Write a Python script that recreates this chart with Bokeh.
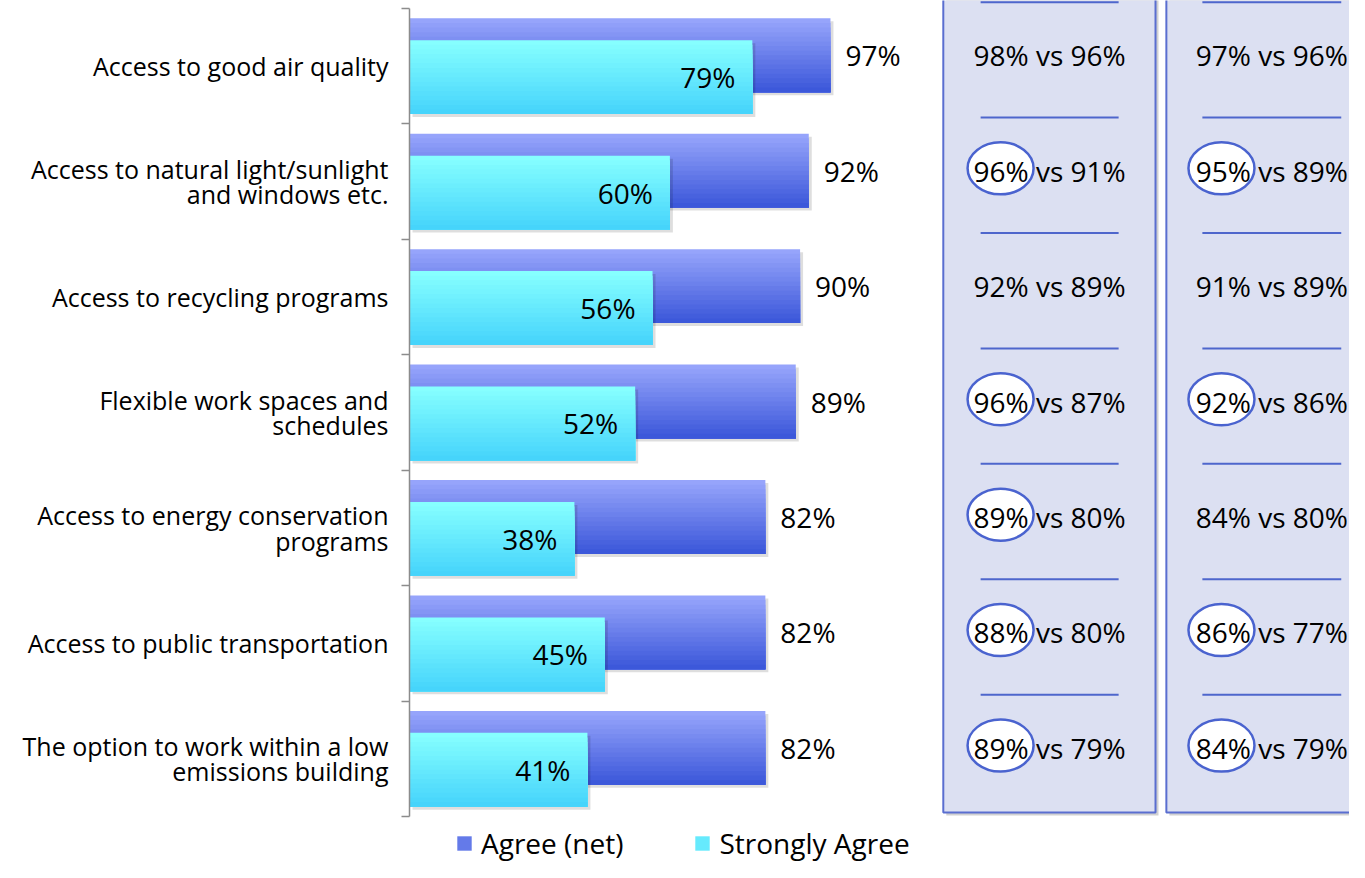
import numpy as np
from bokeh.plotting import figure
from bokeh.layouts import column
from bokeh.models import FixedTicker, Legend, LegendItem
from bokeh.core.properties import value
from bokeh.embed import file_html
from bokeh.resources import INLINE

# ---------------- data ----------------
categories = [
    "Access to good air quality",
    "Access to natural light/sunlight\nand windows etc.",
    "Access to recycling programs",
    "Flexible work spaces and\nschedules",
    "Access to energy conservation\nprograms",
    "Access to public transportation",
    "The option to work within a low\nemissions building",
]
agree_net = [97, 92, 90, 89, 82, 82, 82]
strongly_agree = [79, 60, 56, 52, 38, 45, 41]
panel1_first = [98, 96, 92, 96, 89, 88, 89]
panel1_second = [96, 91, 89, 87, 80, 80, 79]
panel1_circled = [False, True, False, True, True, True, True]
panel2_first = [97, 95, 91, 92, 84, 86, 84]
panel2_second = [96, 89, 89, 86, 80, 77, 79]
panel2_circled = [False, True, False, True, False, True, True]
series_names = ["Agree (net)", "Strongly Agree"]

# ---------------- style ----------------
FONT = "Open Sans"
FS_CAT = "25px"
FS = "28px"
AGREE_TOP, AGREE_BOT = (150, 164, 251), (60, 88, 218)
STRONG_TOP, STRONG_BOT = (134, 255, 255), (70, 212, 251)
PANEL_FILL = "#DCE0F2"
PANEL_LINE = "#5A6ED0"
SEP_LINE = "#4E66CC"
LEFT_BORDER = 409

n = len(categories)
yc = np.array([n - 0.5 - i for i in range(n)])
BAR_H = 0.64
OFF = 0.095
y_agree = yc + OFF
y_strong = yc - OFF
PX_PER_ROW = 115.4
TOP_EXTRA = 8 / PX_PER_ROW

p = figure(width=1349, height=822, x_range=(0, 216.6), y_range=(0, n + TOP_EXTRA),
           x_axis_location=None, output_backend="svg", toolbar_location=None,
           min_border_left=LEFT_BORDER, min_border_right=0, min_border_top=0,
           min_border_bottom=6)
p.outline_line_color = None
p.grid.visible = False
p.background_fill_color = "white"

# y axis with ticks between categories
ax = p.yaxis[0]
ax.bounds = (0, n)
ax.ticker = FixedTicker(ticks=list(yc), minor_ticks=list(range(0, n + 1)))
ax.major_label_overrides = {float(y): c for y, c in zip(yc, categories)}
ax.major_tick_out = 0
ax.major_tick_in = 0
ax.minor_tick_out = 8
ax.minor_tick_in = 0
ax.minor_tick_line_color = "#8C8C8C"
ax.minor_tick_line_width = 1.5
ax.axis_line_color = "#8C8C8C"
ax.axis_line_width = 1.5
ax.major_label_standoff = 13
ax.major_label_text_font = FONT
ax.major_label_text_font_size = FS_CAT
ax.major_label_text_line_height = 0.74
ax.major_label_text_color = "black"


def hexcol(c1, c2, t):
    r, g, b = [int(round(a + (bb - a) * t)) for a, bb in zip(c1, c2)]
    return "#%02x%02x%02x" % (r, g, b)


def gradient_bars(ycenter, vals, top, bot, steps=16):
    ytop = ycenter + BAR_H / 2
    ybot = ycenter - BAR_H / 2
    for k in range(steps):
        t = k / (steps - 1)
        seg_top = ytop - k * BAR_H / steps
        p.hbar(y=(seg_top + ybot) / 2, left=0, right=vals, height=seg_top - ybot,
               fill_color=hexcol(top, bot, t), line_color=None)


# shadows (3px right/down)
dx = 3 / 4.34
dy = 3 / PX_PER_ROW
p.hbar(y=y_agree - dy, left=dx, right=np.array(agree_net) + dx, height=BAR_H,
       fill_color="black", fill_alpha=0.13, line_color=None)
gradient_bars(y_agree, agree_net, AGREE_TOP, AGREE_BOT)
p.hbar(y=y_strong - dy, left=dx, right=np.array(strongly_agree) + dx, height=BAR_H,
       fill_color="black", fill_alpha=0.13, line_color=None)
gradient_bars(y_strong, strongly_agree, STRONG_TOP, STRONG_BOT)

# value labels
p.text(x=agree_net, y=y_agree, text=[f"{v}%" for v in agree_net], x_offset=15,
       text_align="left", text_baseline="middle", text_font=value(FONT),
       text_font_size=FS, text_color="black")
p.text(x=strongly_agree, y=y_strong, text=[f"{v}%" for v in strongly_agree], x_offset=-17,
       text_align="right", text_baseline="middle", text_font=value(FONT),
       text_font_size=FS, text_color="black")

# comparison panels
panels = [
    dict(left=123.0, right=171.9, center=147.5, ell=136.2, sep=(131.6, 163.4),
         first=panel1_first, second=panel1_second, circ=panel1_circled),
    dict(left=174.4, right=224.0, center=198.7, ell=187.1, sep=(182.7, 214.7),
         first=panel2_first, second=panel2_second, circ=panel2_circled),
]
PANEL_BOTTOM = 0.035
for pn in panels:
    p.quad(left=pn["left"] + dx, right=pn["right"] + dx, bottom=PANEL_BOTTOM - dy,
           top=7.6, fill_color="black", fill_alpha=0.18, line_color=None)
    p.quad(left=pn["left"], right=pn["right"], bottom=PANEL_BOTTOM, top=7.6,
           fill_color=PANEL_FILL, line_color=PANEL_LINE, line_width=2)
    bounds = np.arange(1, n + 1) + 0.055
    p.segment(x0=pn["sep"][0], x1=pn["sep"][1], y0=bounds, y1=bounds,
              line_color=SEP_LINE, line_width=2)
    cy = [y + 0.02 for y, c in zip(y_agree, pn["circ"]) if c]
    p.ellipse(x=pn["ell"], y=cy, width=66, height=52, width_units="screen",
              height_units="screen", fill_color="white", line_color="#4A63CF",
              line_width=2.5)
    p.text(x=pn["center"], y=y_agree,
           text=[f"{a}% vs {b}%" for a, b in zip(pn["first"], pn["second"])],
           text_align="center", text_baseline="middle", text_font=value(FONT),
           text_font_size=FS, text_color="black")

# legend in its own strip below the chart (zero-width proxy bars carry the colours)
lg = figure(width=1349, height=40, x_range=(0, 1), y_range=(0, 1),
            x_axis_location=None, y_axis_location=None, toolbar_location=None,
            output_backend="svg", min_border_left=LEFT_BORDER, min_border_right=0,
            min_border_top=0, min_border_bottom=0)
lg.outline_line_color = None
lg.grid.visible = False
r_agree = lg.hbar(y=[0.5], left=[0], right=[0], height=0.5,
                  fill_color=hexcol(AGREE_TOP, AGREE_BOT, 0.55), line_color=None)
r_strong = lg.hbar(y=[0.5], left=[0], right=[0], height=0.5,
                   fill_color=hexcol(STRONG_TOP, STRONG_BOT, 0.5), line_color=None)
legend = Legend(items=[LegendItem(label=series_names[0], renderers=[r_agree]),
                       LegendItem(label=series_names[1], renderers=[r_strong])],
                orientation="horizontal", location=(455 - LEFT_BORDER, 0),
                glyph_width=18, glyph_height=18, label_height=36, label_standoff=8,
                spacing=70, padding=0, margin=0, border_line_color=None,
                background_fill_alpha=0, label_text_font=FONT,
                label_text_font_size=FS, label_text_color="black")
lg.add_layout(legend, "center")

layout = column(p, lg, spacing=0)
open("out.html", "w").write(file_html(layout, INLINE))
